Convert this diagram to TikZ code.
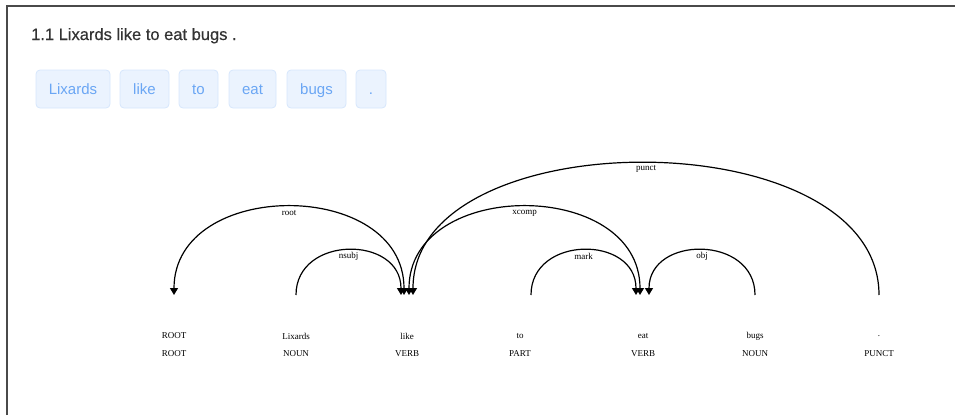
\documentclass[tikz,border=0pt]{standalone}
\usepackage{fontspec}
\setmainfont{Liberation Serif}
\newfontfamily\uisans{Liberation Sans}
\newfontfamily\titlesans[FakeBold=0.5]{Liberation Sans}
\usetikzlibrary{arrows.meta}
\definecolor{framegray}{HTML}{4A4A4A}
\definecolor{titlegray}{HTML}{333333}
\definecolor{tokfill}{HTML}{EBF3FE}
\definecolor{tokdraw}{HTML}{D6E6FC}
\definecolor{toktext}{HTML}{6AA6F4}
\begin{document}
\begin{tikzpicture}[x=1pt,y=-1pt,
  tok/.style={draw=tokdraw, fill=tokfill, rounded corners=4pt, line width=0.8pt,
    minimum height=38pt, inner sep=0pt, text=toktext, text height=13pt, text depth=3pt,
    font=\uisans\fontsize{15}{18}\selectfont},
  wordlbl/.style={font=\fontsize{9}{11}\selectfont, inner sep=0pt},
  arclbl/.style={font=\fontsize{9}{11}\selectfont, inner sep=0pt, yshift=-6pt},
  dep/.style={line width=1.2pt, black},
  >={Triangle[width=8pt,length=7pt]},
]
\useasboundingbox (0,0) rectangle (955,415);
\draw[framegray, line width=2pt] (7,415) -- (7,6) -- (955,6);

\node[anchor=base west, text=titlegray, inner sep=0pt,
      font=\titlesans\fontsize{16.5}{20}\selectfont] (title) at (31,40)
      {1.1 Lixards like to eat bugs .};

\node[tok, minimum width=74pt] (t1) at (73,89) {Lixards};
\node[tok, minimum width=49pt] (t2) at (144.5,89) {like};
\node[tok, minimum width=39pt] (t3) at (198.5,89) {to};
\node[tok, minimum width=47pt] (t4) at (252.5,89) {eat};
\node[tok, minimum width=59pt] (t5) at (316.5,89) {bugs};
\node[tok, minimum width=30pt] (t6) at (371,89) {.};

\node[wordlbl] (w0) at (174,336) {ROOT};
\node[wordlbl] (w1) at (296,336) {Lixards};
\node[wordlbl] (w2) at (407,336) {like};
\node[wordlbl] (w3) at (520,336) {to};
\node[wordlbl] (w4) at (643,336) {eat};
\node[wordlbl] (w5) at (755,336) {bugs};
\node[wordlbl] (w6) at (879,336) {.};

\node[wordlbl] (p0) at (174,354) {ROOT};
\node[wordlbl] (p1) at (296,354) {NOUN};
\node[wordlbl] (p2) at (407,354) {VERB};
\node[wordlbl] (p3) at (520,354) {PART};
\node[wordlbl] (p4) at (643,354) {VERB};
\node[wordlbl] (p5) at (755,354) {NOUN};
\node[wordlbl] (p6) at (879,354) {PUNCT};

\coordinate (root-in) at (174,295);
\coordinate (lixards-out) at (296,295);
\coordinate (like-nsubj) at (401,295);
\coordinate (like-root) at (404,295);
\coordinate (like-xcomp) at (409,295);
\coordinate (like-punct) at (413,295);
\coordinate (to-out) at (531,295);
\coordinate (eat-mark) at (636,295);
\coordinate (eat-xcomp) at (640,295);
\coordinate (eat-obj) at (649,295);
\coordinate (bugs-out) at (755,295);
\coordinate (punct-out) at (879,295);

\draw[dep,<->] (like-root) .. controls +(0,-117) and +(0,-117) .. (root-in)
  node[arclbl,midway] {root};
\draw[dep,->] (lixards-out) .. controls +(0,-60) and +(0,-60) .. (like-nsubj)
  node[arclbl,midway] {nsubj};
\draw[dep,<->] (like-xcomp) .. controls +(0,-117) and +(0,-117) .. (eat-xcomp)
  node[arclbl,midway] {xcomp};
\draw[dep,->] (to-out) .. controls +(0,-60) and +(0,-60) .. (eat-mark)
  node[arclbl,midway] {mark};
\draw[dep,->] (bugs-out) .. controls +(0,-60) and +(0,-60) .. (eat-obj)
  node[arclbl,midway] {obj};
\draw[dep,->] (punct-out) .. controls +(0,-176) and +(0,-176) .. (like-punct)
  node[arclbl,midway] {punct};
\end{tikzpicture}
\end{document}
